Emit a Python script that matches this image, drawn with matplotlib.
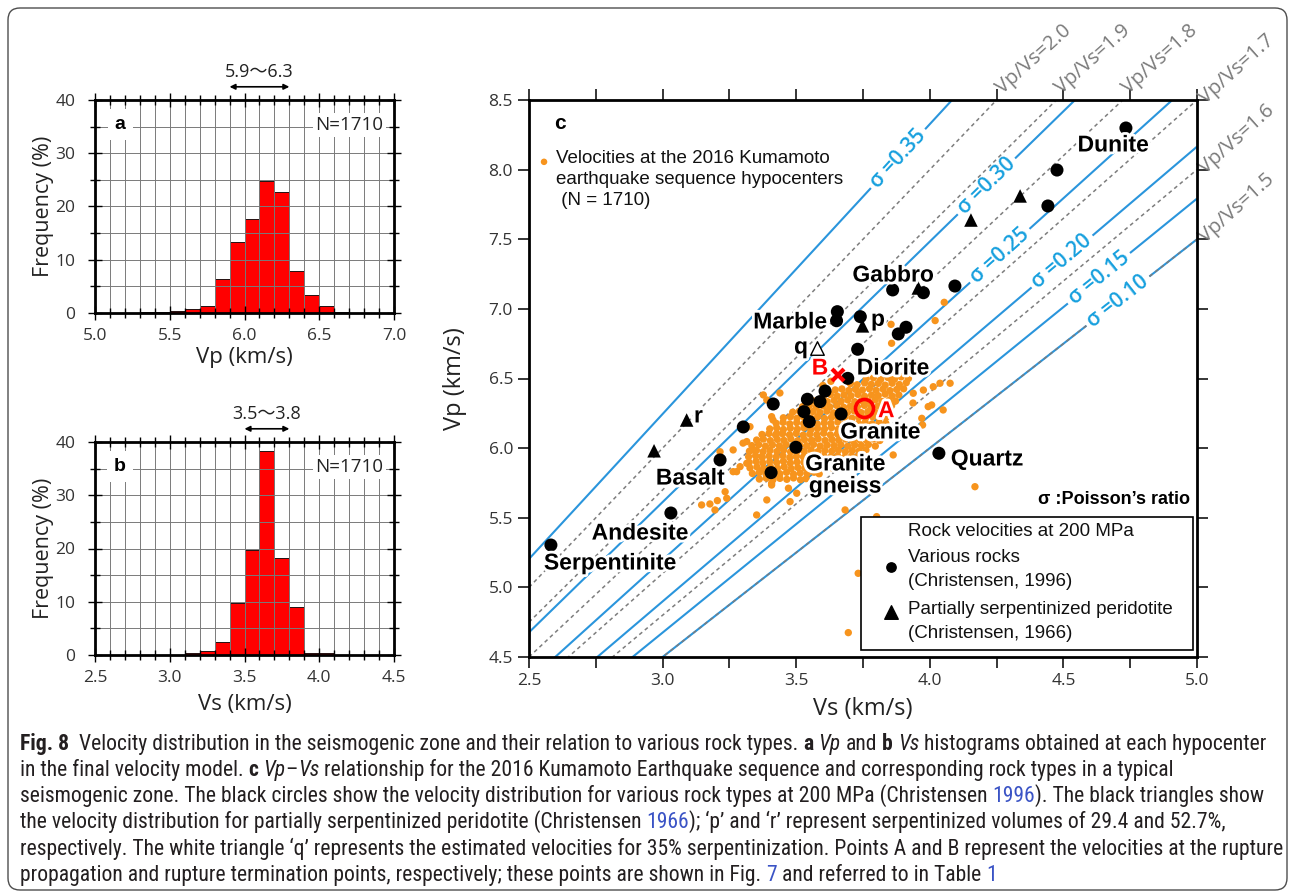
import os
import numpy as np
import matplotlib
matplotlib.use("Agg")
import matplotlib.pyplot as plt
import matplotlib.patheffects as pe
from matplotlib.patches import FancyBboxPatch, Rectangle
from matplotlib.transforms import IdentityTransform
from matplotlib.ticker import MultipleLocator, FormatStrFormatter
from matplotlib import font_manager

plt.rcParams['font.family'] = ['Open Sans', 'DejaVu Sans']

# ---------------- data ----------------
vp_bins = [5.3, 5.4, 5.5, 5.6, 5.7, 5.8, 5.9, 6.0, 6.1, 6.2, 6.3, 6.4, 6.5, 6.6]
vp_freq = [0.1, 0.1, 0.3, 0.8, 1.3, 6.3, 13.3, 17.6, 24.8, 22.8, 7.8, 3.4, 1.4, 0.1]
vs_bins = [3.1, 3.2, 3.3, 3.4, 3.5, 3.6, 3.7, 3.8, 3.9, 4.0]
vs_freq = [0.3, 0.8, 2.4, 9.8, 19.8, 38.3, 18.2, 9.1, 0.4, 0.4]
vp_range = [5.9, 6.3]
vs_range = [3.5, 3.8]
n_events = 1710

vpvs_ratios = [1.5, 1.6, 1.7, 1.8, 1.9, 2.0]
poisson_ratios = [0.10, 0.15, 0.20, 0.25, 0.30, 0.35]
poisson_label_vs = [4.704, 4.633, 4.495, 4.262, 4.212, 3.881]

# rock velocities (Christensen 1996), circles
rock_vs = [4.734, 4.476, 4.442, 3.861, 3.976, 4.094, 3.654, 3.651, 3.740, 3.911,
           3.882, 3.730, 3.693, 3.608, 3.542, 3.589, 3.414, 3.529, 3.549, 3.668,
           3.302, 3.499, 3.215, 3.406, 4.034, 3.031, 2.582]
rock_vp = [8.299, 7.997, 7.739, 7.136, 7.116, 7.164, 6.980, 6.915, 6.944, 6.868,
           6.820, 6.710, 6.501, 6.410, 6.351, 6.334, 6.317, 6.262, 6.190, 6.245,
           6.152, 6.006, 5.915, 5.824, 5.963, 5.534, 5.304]
# partially serpentinized peridotite (Christensen 1966), triangles
serp_vs = [4.338, 4.154, 3.957, 3.748, 3.090, 2.968]
serp_vp = [7.811, 7.638, 7.150, 6.878, 6.202, 5.981]
q_point = (3.577, 6.721)
point_a = (3.755, 6.286)
point_b = (3.658, 6.525)

rock_labels = ['Dunite', 'Gabbro', 'Marble', 'Diorite', 'Granite', 'Granite\ngneiss',
               'Basalt', 'Andesite', 'Serpentinite', 'Quartz', 'p', 'q', 'r']

# hypocenter velocities (Vs, Vp), read from the cloud
quake_points = [
    # dense core
    (3.762,6.498),(3.789,6.505),(3.816,6.492),(3.843,6.507),(3.868,6.496),(3.893,6.512),
    (3.703,6.462),(3.728,6.455),(3.756,6.468),(3.781,6.458),(3.807,6.465),(3.833,6.452),(3.859,6.466),(3.886,6.457),(3.912,6.470),
    (3.646,6.418),(3.671,6.425),(3.697,6.414),(3.722,6.422),(3.748,6.417),(3.774,6.428),(3.799,6.415),(3.825,6.424),(3.851,6.413),(3.876,6.421),(3.902,6.426),
    (3.602,6.378),(3.628,6.385),(3.653,6.374),(3.679,6.383),(3.705,6.376),(3.731,6.386),(3.756,6.372),(3.782,6.381),(3.807,6.377),(3.833,6.388),(3.859,6.374),(3.884,6.382),
    (3.565,6.338),(3.591,6.345),(3.616,6.334),(3.642,6.343),(3.668,6.336),(3.693,6.346),(3.719,6.333),(3.745,6.341),(3.770,6.337),(3.796,6.347),(3.821,6.335),(3.847,6.342),(3.872,6.338),
    (3.524,6.298),(3.549,6.305),(3.575,6.294),(3.601,6.303),(3.626,6.296),(3.652,6.306),(3.678,6.293),(3.703,6.301),(3.729,6.297),(3.755,6.307),(3.780,6.295),(3.806,6.302),(3.831,6.298),(3.857,6.305),
    (3.487,6.258),(3.512,6.265),(3.538,6.254),(3.563,6.263),(3.589,6.256),(3.615,6.266),(3.640,6.253),(3.666,6.261),(3.692,6.257),(3.717,6.267),(3.743,6.255),(3.768,6.262),(3.794,6.258),(3.820,6.265),(3.845,6.254),
    (3.452,6.218),(3.478,6.225),(3.503,6.214),(3.529,6.223),(3.555,6.216),(3.580,6.226),(3.606,6.213),(3.632,6.221),(3.657,6.217),(3.683,6.227),(3.709,6.215),(3.734,6.222),(3.760,6.218),(3.786,6.225),(3.811,6.214),(3.837,6.222),
    (3.425,6.178),(3.451,6.185),(3.476,6.174),(3.502,6.183),(3.528,6.176),(3.553,6.186),(3.579,6.173),(3.605,6.181),(3.630,6.177),(3.656,6.187),(3.681,6.175),(3.707,6.182),(3.733,6.178),(3.758,6.185),(3.784,6.174),(3.810,6.182),(3.835,6.179),
    (3.401,6.138),(3.427,6.145),(3.452,6.134),(3.478,6.143),(3.504,6.136),(3.529,6.146),(3.555,6.133),(3.580,6.141),(3.606,6.137),(3.632,6.147),(3.657,6.135),(3.683,6.142),(3.709,6.138),(3.734,6.145),(3.760,6.134),(3.786,6.142),(3.811,6.139),(3.832,6.146),
    (3.372,6.098),(3.398,6.105),(3.423,6.094),(3.449,6.103),(3.475,6.096),(3.500,6.106),(3.526,6.093),(3.551,6.101),(3.577,6.097),(3.603,6.107),(3.628,6.095),(3.654,6.102),(3.680,6.098),(3.705,6.105),(3.731,6.094),(3.757,6.102),(3.782,6.099),(3.808,6.106),(3.830,6.095),
    (3.352,6.058),(3.377,6.065),(3.403,6.054),(3.429,6.063),(3.454,6.056),(3.480,6.066),(3.506,6.053),(3.531,6.061),(3.557,6.057),(3.582,6.067),(3.608,6.055),(3.634,6.062),(3.659,6.058),(3.685,6.065),(3.711,6.054),(3.736,6.062),(3.762,6.059),(3.788,6.066),(3.813,6.055),
    (3.334,6.018),(3.360,6.025),(3.385,6.014),(3.411,6.023),(3.437,6.016),(3.462,6.026),(3.488,6.013),(3.513,6.021),(3.539,6.017),(3.565,6.027),(3.590,6.015),(3.616,6.022),(3.642,6.018),(3.667,6.025),(3.693,6.014),(3.719,6.022),(3.744,6.019),(3.770,6.026),(3.796,6.015),
    (3.325,5.978),(3.351,5.985),(3.376,5.974),(3.402,5.983),(3.428,5.976),(3.453,5.986),(3.479,5.973),(3.504,5.981),(3.530,5.977),(3.556,5.987),(3.581,5.975),(3.607,5.982),(3.633,5.978),(3.658,5.985),(3.684,5.974),(3.710,5.982),(3.735,5.979),(3.761,5.986),
    (3.322,5.938),(3.348,5.945),(3.373,5.934),(3.399,5.943),(3.425,5.936),(3.450,5.946),(3.476,5.933),(3.501,5.941),(3.527,5.937),(3.553,5.947),(3.578,5.935),(3.604,5.942),(3.630,5.938),(3.655,5.945),(3.681,5.934),(3.707,5.942),(3.731,5.939),
    (3.324,5.898),(3.350,5.905),(3.375,5.894),(3.401,5.903),(3.427,5.896),(3.452,5.906),(3.478,5.893),(3.503,5.901),(3.529,5.897),(3.555,5.907),(3.580,5.895),(3.606,5.902),(3.632,5.898),(3.657,5.905),(3.683,5.894),
    (3.327,5.858),(3.353,5.865),(3.378,5.854),(3.404,5.863),(3.430,5.856),(3.455,5.866),(3.481,5.853),(3.506,5.861),(3.532,5.857),(3.558,5.867),(3.583,5.855),(3.609,5.862),(3.634,5.858),
    (3.336,5.818),(3.362,5.825),(3.387,5.814),(3.413,5.823),(3.439,5.816),(3.464,5.826),(3.490,5.813),(3.515,5.821),(3.541,5.817),(3.567,5.827),(3.586,5.815),
    (3.362,5.778),(3.388,5.785),(3.413,5.774),(3.439,5.783),(3.465,5.776),(3.490,5.786),(3.516,5.773),(3.537,5.781),
    # scattered points
    (3.789,6.537),(3.826,6.549),(3.857,6.489),(3.920,6.500),(3.600,6.450),(3.630,6.480),
    (3.857,6.753),(4.038,6.466),(4.076,6.466),(3.976,6.417),(3.937,6.324),(4.007,6.310),
    (4.050,6.274),(3.970,6.214),(3.876,6.178),(3.863,5.951),(3.439,6.396),(3.390,6.346),
    (3.327,6.154),(3.413,6.202),(3.338,5.987),(3.315,5.891),(3.301,6.036),(3.938,6.394),
    (4.013,6.441),(3.994,6.298),(3.973,6.166),(4.054,7.047),(3.855,6.889),(4.020,6.916),
    (3.234,5.687),(3.264,5.831),(3.352,5.520),(3.390,5.628),(3.477,5.616),(3.471,5.712),
    (3.502,5.676),(3.408,5.748),(3.683,5.556),(3.801,5.508),(4.169,5.723),(3.732,5.101),
    (3.695,4.675),(3.146,5.592),(3.177,5.599),(3.196,5.556),(3.205,5.623),(3.240,5.640),
    (3.215,5.974),(3.264,5.987),(3.315,6.047),(3.290,5.867),(3.277,5.831),(3.371,5.939),
    (3.377,6.382),(3.408,6.226),(3.427,6.106),(3.408,5.735),(3.414,5.795),
]
quake_vs = [p[0] for p in quake_points]
quake_vp = [p[1] for p in quake_points]

# ---------------- figure ----------------
W, H = 1293, 894
fig = plt.figure(figsize=(W / 100, H / 100), dpi=100)
fig.patch.set_facecolor('white')

def ax_rect(x0, y0, x1, y1):
    return [x0 / W, 1 - y1 / H, (x1 - x0) / W, (y1 - y0) / H]

# outer rounded frame
frame = FancyBboxPatch((8, 4), W - 14, H - 12, boxstyle='round,pad=0,rounding_size=12',
                       transform=IdentityTransform(), facecolor='none', edgecolor='#4d4d4d', lw=1.0)
fig.add_artist(frame)

ARIAL = ['Liberation Sans', 'DejaVu Sans']
RED = '#ff0000'

def hist_panel(rect, bins, freq, xlim, rng, letter, xlabel, xlab_y):
    ax = fig.add_axes(rect)
    ax.bar(bins, freq, width=0.1, align='edge', color=RED, edgecolor='black', lw=0.6, zorder=1)
    ax.set_xlim(*xlim)
    ax.set_ylim(0, 40)
    ax.xaxis.set_major_locator(MultipleLocator(0.5))
    ax.xaxis.set_minor_locator(MultipleLocator(0.1))
    ax.yaxis.set_major_locator(MultipleLocator(10))
    ax.yaxis.set_minor_locator(MultipleLocator(5))
    ax.set_axisbelow(False)
    ax.grid(True, which='both', color='#7a7a7a', lw=0.7, zorder=2)
    ax.tick_params(which='both', direction='inout', top=True, right=True, width=1.0,
                   labelsize=12.5, colors='black', labelcolor='#333333')
    ax.tick_params(which='major', length=10)
    ax.tick_params(which='minor', length=7)
    ax.tick_params(axis='x', which='major', pad=6)
    ax.tick_params(axis='y', which='major', pad=9)
    ax.xaxis.set_major_formatter(FormatStrFormatter('%.1f'))
    for s in ax.spines.values():
        s.set_linewidth(2.0)
        s.set_zorder(5)
    ax.set_xlabel(xlabel, fontsize=16, color='#222222')
    ax.set_ylabel('Frequency (%)', fontsize=15.5, color='#222222')
    ax.xaxis.set_label_coords(0.5, xlab_y)
    ax.yaxis.set_label_coords(-0.137, 0.5)
    ax.text(0.084, 0.883, letter, transform=ax.transAxes, fontsize=14, fontweight='bold',
            family=ARIAL, ha='center', va='center', zorder=6,
            bbox=dict(facecolor='white', edgecolor='none', pad=5))
    ax.text(0.965, 0.883, f'N={n_events}', transform=ax.transAxes, fontsize=13.5,
            ha='right', va='center', zorder=6, color='#222222',
            bbox=dict(facecolor='white', edgecolor='none', pad=2))
    ax.annotate('', xy=(rng[1], 1.062), xytext=(rng[0], 1.062),
                xycoords=('data', 'axes fraction'), textcoords=('data', 'axes fraction'),
                arrowprops=dict(arrowstyle='<|-|>', lw=1.2, color='black', shrinkA=0, shrinkB=0,
                                mutation_scale=8), annotation_clip=False)
    ax.text((rng[0] + rng[1]) / 2, 1.13, f'{rng[0]:.1f}\u301c{rng[1]:.1f}',
            transform=ax.get_xaxis_transform(), ha='center', va='center', fontsize=13,
            family=['Open Sans', 'Noto Sans CJK JP'], color='#222222')
    return ax

hist_panel(ax_rect(95, 100, 394, 313), vp_bins, vp_freq, (5.0, 7.0), vp_range, 'a', 'Vp (km/s)', -0.16)
hist_panel(ax_rect(95, 442, 394, 655), vs_bins, vs_freq, (2.5, 4.5), vs_range, 'b', 'Vs (km/s)', -0.185)

# ---------------- panel c ----------------
ax = fig.add_axes(ax_rect(529, 100, 1197, 657))
ax.set_xlim(2.5, 5.0)
ax.set_ylim(4.5, 8.5)
ppx = 668 / 2.5
ppy = 557 / 4.0
BLUE = '#2a95dc'
BLUE_T = '#17a0de'
GRAY = '#7d7d7d'

sig_k = [np.sqrt(2 * (1 - s) / (1 - 2 * s)) for s in poisson_ratios]

def gap_half(k, px=40.0):
    return px / np.hypot(ppx, k * ppy)

# Poisson's ratio lines (blue, broken at labels)
for s_val, k, c_vs in zip(poisson_ratios, sig_k, poisson_label_vs):
    g = gap_half(k)
    for seg in ([2.5, c_vs - g], [c_vs + g, 5.0]):
        xs = np.array(seg)
        ax.plot(xs, k * xs, color=BLUE, lw=1.5, zorder=2, solid_capstyle='butt')
    ang = np.degrees(np.arctan(k * ppy / ppx))
    ax.text(c_vs, k * c_vs, f'\u03c3 =0.{int(round(s_val*100)):02d}', rotation=ang,
            rotation_mode='anchor', ha='center', va='center', color=BLUE_T, fontsize=15,
            fontweight='semibold', zorder=3)

# Vp/Vs lines (gray dashed)
for r in vpvs_ratios:
    segs = [[2.5, 5.0]]
    for k, c_vs in zip(sig_k, poisson_label_vs):
        if abs(k - r) < 0.005:
            g = gap_half(k)
            segs = [[2.5, c_vs - g], [c_vs + g, 5.0]]
    for seg in segs:
        xs = np.array(seg)
        ax.plot(xs, r * xs, color=GRAY, lw=1.1, ls=(0, (2.5, 2.2)), zorder=2.2)
    if r * 5.0 > 8.5 + 1e-3:
        pos = (8.5 / r, 8.5)
        off = (4, 4)
    else:
        pos = (5.0, 5.0 * r)
        off = (6, -3)
    ax.annotate(f'Vp/Vs={r:.1f}', xy=pos, xytext=off, textcoords='offset points',
                rotation=42, rotation_mode='anchor', ha='left', va='baseline',
                color='#7a7a7a', fontsize=14.5, annotation_clip=False)

# hypocenter cloud
ax.scatter(quake_vs, quake_vp, s=28, color='#f7941d', edgecolors='none', zorder=3)

# rocks
ax.scatter(rock_vs, rock_vp, s=88, color='black', edgecolors='none', zorder=5)
ax.scatter(serp_vs, serp_vp, s=95, marker='^', color='black', edgecolors='none', zorder=5)
ax.scatter([q_point[0]], [q_point[1]], s=95, marker='^', facecolor='white',
           edgecolor='black', lw=1.0, zorder=5)
ax.plot([point_a[0]], [point_a[1]], 'o', ms=13, mfc='none', mec=RED, mew=2.6, zorder=7)
ax.plot([point_b[0]], [point_b[1]], 'x', ms=9, mec=RED, mew=3.0, zorder=7)

halo = [pe.withStroke(linewidth=4, foreground='white')]
label_pos = {
    'Dunite': (4.686, 8.177), 'Gabbro': (3.862, 7.243), 'Marble': (3.477, 6.906),
    'Diorite': (3.862, 6.575), 'Granite': (3.814, 6.116), 'Granite\ngneiss': (3.683, 5.807),
    'Basalt': (3.103, 5.785), 'Andesite': (2.915, 5.390), 'Serpentinite': (2.803, 5.175),
    'Quartz': (4.214, 5.922), 'p': (3.806, 6.925), 'q': (3.518, 6.726), 'r': (3.134, 6.231),
}
for name in rock_labels:
    x, y = label_pos[name]
    ax.text(x, y, name, ha='center', va='center', fontsize=16.5, fontweight='bold',
            family=ARIAL, zorder=6, path_effects=halo, linespacing=0.95)
ax.text(3.589, 6.575, 'B', ha='center', va='center', fontsize=16.5, fontweight='bold',
        family=ARIAL, color=RED, zorder=7, path_effects=halo)
ax.text(3.837, 6.269, 'A', ha='center', va='center', fontsize=16.5, fontweight='bold',
        family=ARIAL, color=RED, zorder=7, path_effects=halo)

ax.text(0.046, 0.958, 'c', transform=ax.transAxes, fontsize=15, fontweight='bold',
        family=ARIAL, ha='center', va='center')
ax.scatter([0.0225], [0.889], s=22, color='#f7941d', edgecolors='none',
           transform=ax.transAxes, clip_on=False)
ax.text(0.040, 0.910, 'Velocities at the 2016 Kumamoto\nearthquake sequence hypocenters\n (N = 1710)',
        transform=ax.transAxes, fontsize=13.5, family=ARIAL, ha='left', va='top',
        linespacing=1.3, color='#111111')

ax.text(0.99, 0.283, '\u03c3 :Poisson\u2019s ratio', transform=ax.transAxes, fontsize=13,
        fontweight='bold', family=ARIAL, ha='right', va='center', zorder=8)

# legend box
ax.add_patch(Rectangle((0.497, 0.0126), 0.497, 0.2384, transform=ax.transAxes,
                       facecolor='white', edgecolor='black', lw=1.2, zorder=8))
lx = (908 - 529) / 668
def yax(py):
    return 1 - (py - 100) / 557
leg_kw = dict(transform=ax.transAxes, fontsize=13.5, family=ARIAL, ha='left', va='center',
              zorder=9, color='#111111')
ax.text(lx, yax(532), 'Rock velocities at 200 MPa', **leg_kw)
ax.text(lx, yax(558), 'Various rocks', **leg_kw)
ax.text(lx, yax(582), '(Christensen, 1996)', **leg_kw)
ax.text(lx, yax(609), 'Partially serpentinized peridotite', **leg_kw)
ax.text(lx, yax(634), '(Christensen, 1966)', **leg_kw)
ax.scatter([(891 - 529) / 668], [yax(567)], s=45, color='black', transform=ax.transAxes, zorder=9)
ax.scatter([(891 - 529) / 668], [yax(612)], s=95, marker='^', color='black',
           transform=ax.transAxes, zorder=9)

ax.xaxis.set_major_locator(MultipleLocator(0.5))
ax.xaxis.set_minor_locator(MultipleLocator(0.25))
ax.yaxis.set_major_locator(MultipleLocator(0.5))
ax.xaxis.set_major_formatter(FormatStrFormatter('%.1f'))
ax.yaxis.set_major_formatter(FormatStrFormatter('%.1f'))
ax.tick_params(which='both', direction='out', top=True, right=True, length=8, width=1.1,
               labelsize=12.5, labelcolor='#333333')
for s in ax.spines.values():
    s.set_linewidth(2.0)
    s.set_zorder(10)
ax.set_xlabel('Vs (km/s)', fontsize=17, color='#222222')
ax.set_ylabel('Vp (km/s)', fontsize=17, color='#222222')
ax.xaxis.set_label_coords(0.5, -0.072)
ax.yaxis.set_label_coords(-0.093, 0.5)

# ---------------- caption ----------------
BAD_WEIGHTS = ('Light', 'Thin', 'Semi', 'Extra', 'Medium', 'Black', 'Heavy', 'Ultra', 'Demi')

def condensed_set():
    """Find a condensed/narrow sans family with regular, bold and italic files."""
    prefs = ['LiberationSansNarrow', 'RobotoCondensed', 'OpenSansCondensed', 'OpenSans_Condensed',
             'NotoSans-Condensed', 'NotoSansCondensed', 'DejaVuSansCondensed']
    files = [f.fname for f in font_manager.fontManager.ttflist]
    for p in prefs:
        cands = [f for f in files if os.path.basename(f).replace(' ', '').startswith(p)]
        if not cands:
            continue
        def pick(bold, italic):
            best = None
            for f in cands:
                b = os.path.basename(f)
                isb = 'Bold' in b and not any(w in b for w in ('Semi', 'Extra', 'Ultra', 'Demi'))
                isi = ('Italic' in b) or ('Oblique' in b)
                other = any(w in b for w in BAD_WEIGHTS) and not isb
                if isb == bold and isi == italic and not other:
                    best = f
                    break
            return best
        reg = pick(False, False)
        if reg is None:
            continue
        bold = pick(True, False) or reg
        ital = pick(False, True) or reg
        return {'r': reg, 'b': bold, 'i': ital, 'c': reg}
    return None

cfiles = condensed_set()
renderer = fig.canvas.get_renderer()

def fprops(st, size):
    if cfiles is not None:
        return font_manager.FontProperties(fname=cfiles[st], size=size)
    wgt = 'bold' if st == 'b' else 'normal'
    sty = 'italic' if st == 'i' else 'normal'
    return font_manager.FontProperties(family='Liberation Sans', weight=wgt, style=sty, size=size)

def text_w(s, st, size):
    t = fig.text(0, 0, s, fontproperties=fprops(st, size))
    w = t.get_window_extent(renderer).width
    t.remove()
    return w

caption = [
    [('Fig. 8', 'b'), ('  Velocity distribution in the seismogenic zone and their relation to various rock types. ', 'r'),
     ('a', 'b'), (' ', 'r'), ('Vp', 'i'), (' and ', 'r'), ('b', 'b'), (' ', 'r'), ('Vs', 'i'),
     (' histograms obtained at each hypocenter', 'r')],
    [('in the final velocity model. ', 'r'), ('c', 'b'), (' ', 'r'), ('Vp', 'i'), ('\u2013', 'r'), ('Vs', 'i'),
     (' relationship for the 2016 Kumamoto Earthquake sequence and corresponding rock types in a typical', 'r')],
    [('seismogenic zone. The black circles show the velocity distribution for various rock types at 200 MPa (Christensen ', 'r'),
     ('1996', 'c'), ('). The black triangles show', 'r')],
    [('the velocity distribution for partially serpentinized peridotite (Christensen ', 'r'), ('1966', 'c'),
     ('); \u2018p\u2019 and \u2018r\u2019 represent serpentinized volumes of 29.4 and 52.7%,', 'r')],
    [('respectively. The white triangle \u2018q\u2019 represents the estimated velocities for 35% serpentinization. Points A and B represent the velocities at the rupture', 'r')],
    [('propagation and rupture termination points, respectively; these points are shown in Fig. ', 'r'), ('7', 'c'),
     (' and referred to in Table ', 'r'), ('1', 'c')],
]
colors = {'r': '#231f20', 'b': '#231f20', 'i': '#231f20', 'c': '#3a53c5'}

def split_spaces(s):
    core = s.strip(' ')
    if not core:
        return len(s), '', 0
    lead = len(s) - len(s.lstrip(' '))
    trail = len(s) - len(s.rstrip(' '))
    return lead, core, trail

def line_width(pieces, size):
    sp = text_w('x x', 'r', size) - text_w('xx', 'r', size)
    total = 0
    for s, st in pieces:
        lead, core, trail = split_spaces(s)
        total += (lead + trail) * sp
        if core:
            total += text_w(core, st, size)
    return total

base = 10.0
cap_size = base * 1252.0 / max(line_width(p, base) for p in caption)
space_w = text_w('x x', 'r', cap_size) - text_w('xx', 'r', cap_size)
baselines = [750, 776, 802, 828, 855, 881]
for pieces, by in zip(caption, baselines):
    x = 20.0
    for s, st in pieces:
        lead, core, trail = split_spaces(s)
        x += lead * space_w
        if core:
            t = fig.text(x / W, 1 - by / H, core, fontproperties=fprops(st, cap_size),
                         color=colors[st], ha='left', va='baseline')
            x += t.get_window_extent(renderer).width
        x += trail * space_w

fig.savefig('out.png', dpi=100, facecolor='white')
